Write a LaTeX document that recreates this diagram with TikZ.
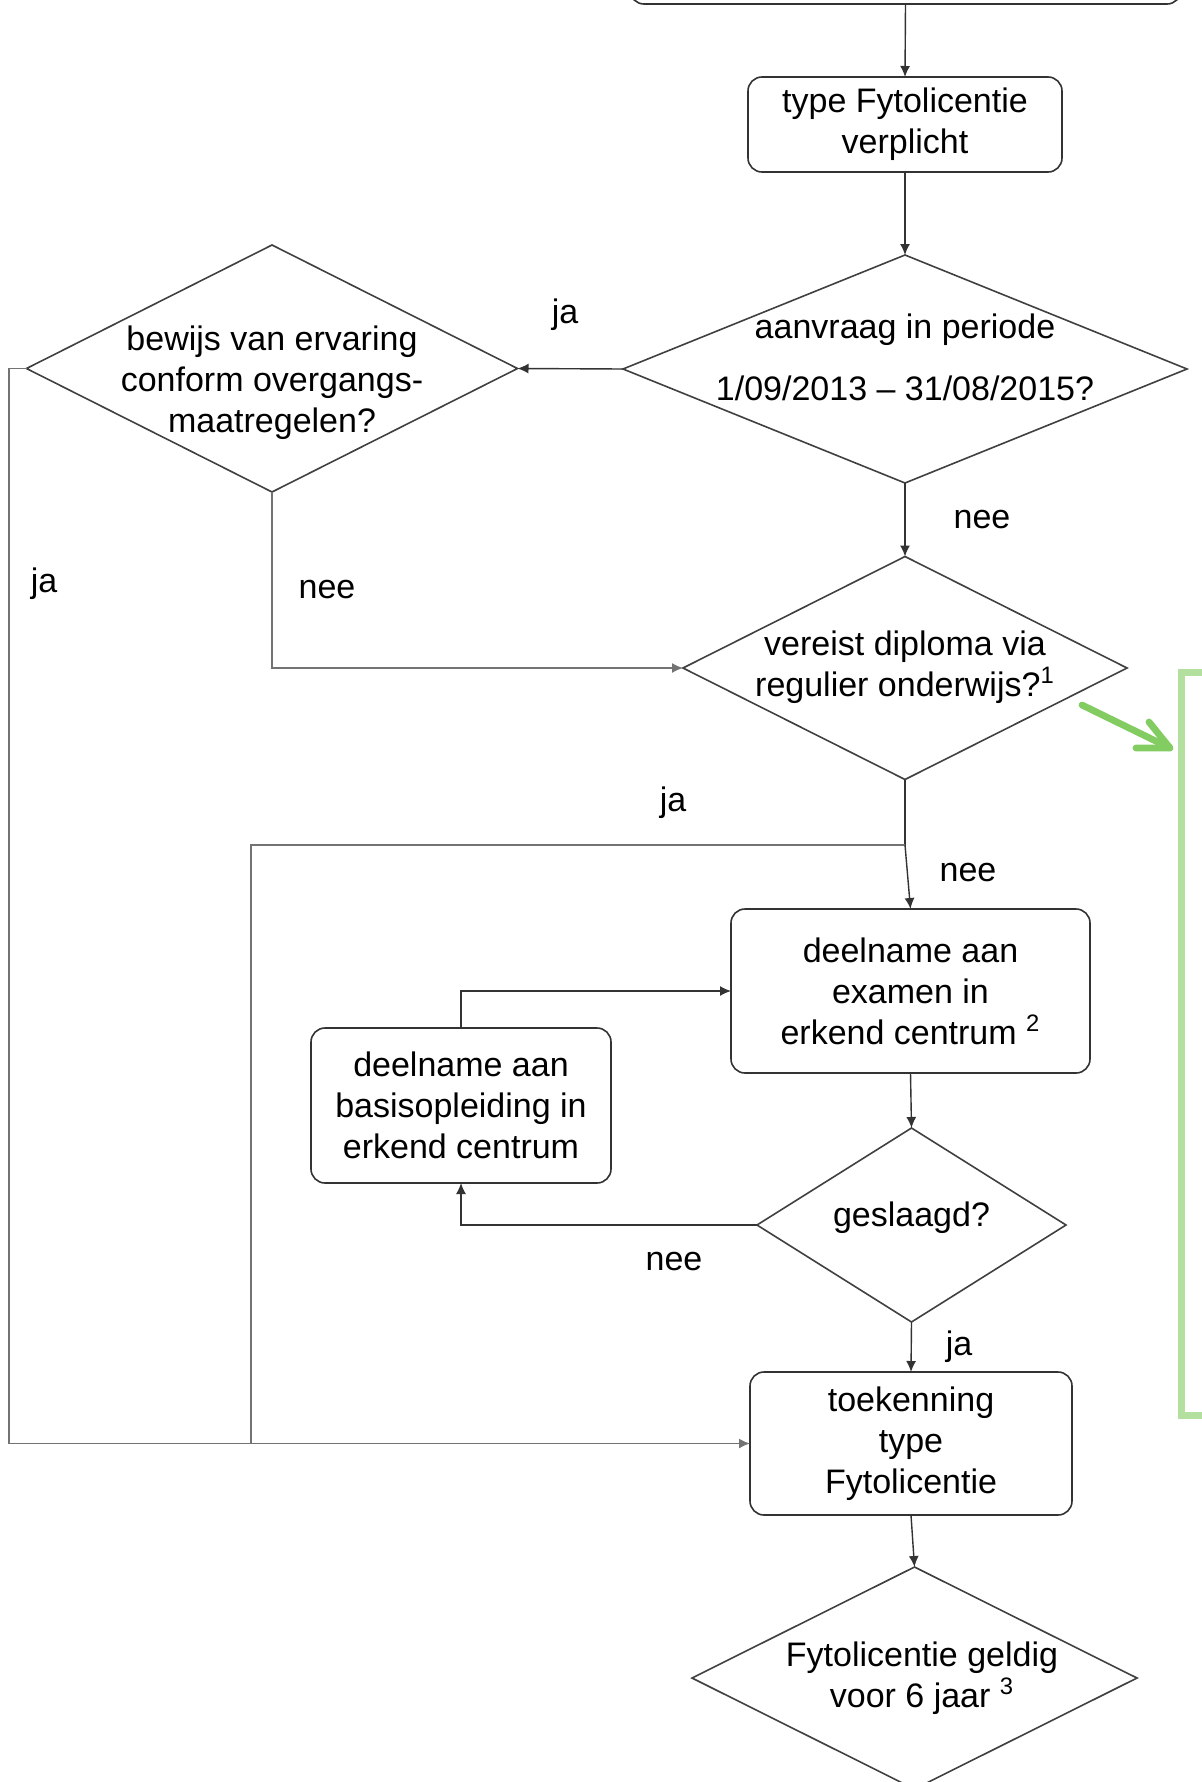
\documentclass[tikz,border=0pt]{standalone}
\usepackage{fontspec}
\setmainfont{Liberation Sans}
\usetikzlibrary{shapes.geometric,arrows.meta}
\definecolor{gboxc}{HTML}{B3E09F}
\definecolor{garrc}{HTML}{82CC62}
\begin{document}
\begin{tikzpicture}[x=0.5pt,y=-0.5pt,
  every node/.style={font=\fontsize{17}{20.5}\selectfont},
  box/.style={draw=black!80, line width=0.8pt, rounded corners=7pt, align=center, inner sep=0pt, outer sep=0pt},
  dia/.style={diamond, draw=black!75, line width=0.8pt, inner sep=0pt, outer sep=0pt},
  txt/.style={align=center, inner sep=0pt},
  lab/.style={inner sep=0pt},
  con/.style={draw=black!80, line width=0.7pt},
  gcon/.style={draw=black!55, line width=0.8pt},
  arr/.style={con, -{Latex[length=5.5pt,width=5pt]}},
  garr/.style={draw=garrc, line width=3.4pt, line cap=round, line join=round},
]
\useasboundingbox (0,0) rectangle (1202,1782);
% nodes
\node[box, minimum width=275.5pt, minimum height=60pt] (top) at (905.5,-56) {};
\node[box, minimum width=157pt, minimum height=47.5pt] (type) at (905,124.5) {type Fytolicentie\\verplicht};
\node[dia, minimum width=282pt, minimum height=114pt] (d1) at (905,369) {};
\node[txt] (d1t) at (905,357) {aanvraag in periode\\[10.5pt]1/09/2013 – 31/08/2015?};
\node[dia, minimum width=245.5pt, minimum height=123.5pt] (d2) at (272,368.5) {};
\node[txt] (d2t) at (272,383) {bewijs van ervaring\\conform overgangs-\\maatregelen?};
\node[dia, minimum width=222pt, minimum height=111.5pt] (d3) at (905,668) {};
\node[txt] (d3t) at (905,667) {vereist diploma via\\regulier onderwijs?\textsuperscript{1}};
\node[box, minimum width=179.5pt, minimum height=82pt] (exam) at (910.5,991) {deelname aan\\examen in\\erkend centrum \textsuperscript{2}};
\node[box, minimum width=150pt, minimum height=77.5pt] (basis) at (461,1105.5) {deelname aan\\basisopleiding in\\erkend centrum};
\node[dia, minimum width=154.5pt, minimum height=97pt] (ges) at (911.5,1225) {};
\node[txt] (gest) at (911.5,1218) {geslaagd?};
\node[box, minimum width=161pt, minimum height=71.5pt] (toek) at (911,1443.5) {toekenning\\type\\Fytolicentie};
\node[dia, minimum width=222.5pt, minimum height=111pt] (fin) at (914.5,1678) {};
\node[txt] (fint) at (922,1678) {Fytolicentie geldig\\voor 6 jaar \textsuperscript{3}};
\node[draw=gboxc, line width=3.5pt, inner sep=0pt, outer sep=0pt, minimum width=45pt, minimum height=371.5pt, anchor=north west] (gbox) at (1181.5,672) {};
% connectors
\draw[arr] (top.south) -- (type.north);
\draw[arr] (type.south) -- (d1.north);
\draw[arr] (d1.west) -- (d2.east);
\draw[arr] (d1.south) -- (d3.north);
\draw[arr, gcon] (d2.south) |- (d3.west);
\draw[arr, gcon] (d2.west) -| (9,1443.5) -- (toek.west);
\coordinate (j) at (905,845);
\draw[con] (d3.south) -- (j);
\draw[gcon] (j) -| (251,1443.5);
\draw[arr] (j) -- (exam.north);
\draw[arr] (exam.south) -- (ges.north);
\draw[arr] (ges.west) -| (basis.south);
\draw[arr] (basis.north) |- (exam.west);
\draw[arr] (ges.south) -- (toek.north);
\draw[arr] (toek.south) -- (fin.north);
% green annotation arrow
\coordinate (ga) at (1082,705);
\coordinate (gb) at (1170,748);
\coordinate (gh1) at (1149,722);
\coordinate (gh2) at (1136,748);
\draw[garr] (ga) -- (gb);
\draw[garr] (gh1) -- (gb) -- (gh2);
% labels
\node[lab] (l1) at (565,315) {ja};
\node[lab] (l2) at (982,520) {nee};
\node[lab] (l3) at (327,590) {nee};
\node[lab] (l4) at (44,584) {ja};
\node[lab] (l5) at (673,803) {ja};
\node[lab] (l6) at (968,873) {nee};
\node[lab] (l7) at (674,1262) {nee};
\node[lab] (l8) at (959,1347) {ja};
\end{tikzpicture}
\end{document}
